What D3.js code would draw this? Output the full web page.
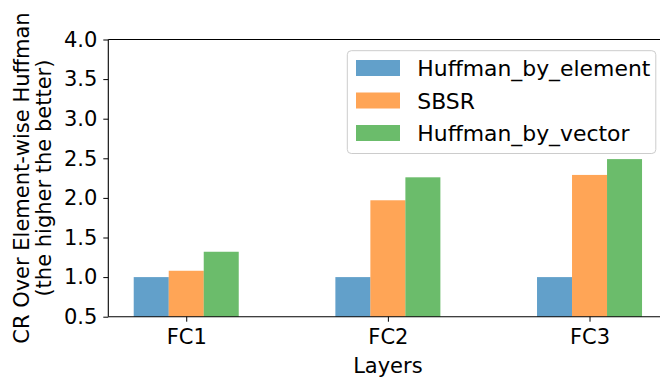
<!DOCTYPE html>
<html>
<head>
<meta charset="utf-8">
<script src="https://cdn.jsdelivr.net/npm/d3@7"></script>
<style>
  html, body { margin: 0; padding: 0; background: #fff; overflow: hidden; }
  svg { display: block; }
  text { font-family: "DejaVu Sans", sans-serif; fill: #000; }
</style>
</head>
<body>
<svg id="chart" width="660" height="377"></svg>
<script>
const categories = ["FC1", "FC2", "FC3"];
const seriesNames = ["Huffman_by_element", "SBSR", "Huffman_by_vector"];
const huffmanByElement = [1.0, 1.0, 1.0];
const sbsr = [1.08, 1.97, 2.29];
const huffmanByVector = [1.32, 2.26, 2.49];
const yTicks = [0.5, 1.0, 1.5, 2.0, 2.5, 3.0, 3.5, 4.0];
const seriesColors = ["#1f77b4", "#ff7f0e", "#2ca02c"];
const seriesValues = [huffmanByElement, sbsr, huffmanByVector];

(function () {
const svg = d3.select("#chart");
const W = 0.1736;               // bar width in category units
const pxPerUnit = 201.65;
const lo = -1.5 * W, hi = (categories.length - 1) + 1.5 * W;
const m = 0.05 * (hi - lo);
const pL = 108.3, pT = 39.5, pB = 316.7;
const pR = pL + (hi - lo + 2 * m) * pxPerUnit;

const x = d3.scaleLinear().domain([lo - m, hi + m]).range([pL, pR]);
const y = d3.scaleLinear().domain([0.5, 4.0]).range([pB, pT]);

// bars
seriesValues.forEach((vals, j) => {
  svg.append("g").selectAll("rect")
    .data(vals)
    .join("rect")
    .attr("x", (d, i) => x(i + (j - 1) * W - W / 2))
    .attr("width", x(W) - x(0))
    .attr("y", d => y(d))
    .attr("height", d => y(0.5) - y(d))
    .attr("fill", seriesColors[j])
    .attr("fill-opacity", 0.7);
});

// y axis
const yAxis = d3.axisLeft(y).tickValues(yTicks).tickFormat(d3.format(".1f"))
  .tickSize(5).tickPadding(6);
const gy = svg.append("g").attr("transform", `translate(${pL},0)`).call(yAxis);
gy.select(".domain").remove();
gy.selectAll(".tick line").attr("stroke", "#000").attr("stroke-width", 1);
gy.selectAll(".tick text").style("font-size", "21px").style("font-family", "DejaVu Sans").attr("fill", "#000");

// x axis
const xAxis = d3.axisBottom(x).tickValues(d3.range(categories.length))
  .tickFormat(i => categories[i]).tickSize(5).tickPadding(7);
const gx = svg.append("g").attr("transform", `translate(0,${pB})`).call(xAxis);
gx.select(".domain").remove();
gx.selectAll(".tick line").attr("stroke", "#000").attr("stroke-width", 1);
gx.selectAll(".tick text").style("font-size", "21px").style("font-family", "DejaVu Sans").attr("fill", "#000");

// spines (right spine lies outside the visible area)
const sp = svg.append("g").attr("stroke", "#000").attr("stroke-width", 1.1).attr("fill", "none");
sp.append("line").attr("x1", pL).attr("x2", pL).attr("y1", pT).attr("y2", pB);
sp.append("line").attr("x1", pL).attr("x2", pR).attr("y1", pT).attr("y2", pT);
sp.append("line").attr("x1", pL).attr("x2", pR).attr("y1", pB).attr("y2", pB);

// axis labels
svg.append("text").attr("x", (pL + pR) / 2).attr("y", 373)
  .attr("text-anchor", "middle").style("font-size", "21px").text("Layers");
const cy = (pT + pB) / 2;
svg.append("text").attr("transform", `translate(28.5,${cy}) rotate(-90)`)
  .attr("text-anchor", "middle").style("font-size", "21px").text("CR Over Element-wise Huffman");
svg.append("text").attr("transform", `translate(50.5,${cy}) rotate(-90)`)
  .attr("text-anchor", "middle").style("font-size", "21px").text("(the higher the better)");

// legend
const lg = svg.append("g");
lg.append("rect").attr("x", 347.3).attr("y", 50.7).attr("width", 308.5).attr("height", 102.8)
  .attr("rx", 4).attr("ry", 4).attr("fill", "#fff").attr("fill-opacity", 0.8)
  .attr("stroke", "#cccccc").attr("stroke-width", 1);
seriesNames.forEach((name, j) => {
  const yy = 60 + j * 32.5;
  lg.append("rect").attr("x", 356).attr("y", yy).attr("width", 44).attr("height", 16)
    .attr("fill", seriesColors[j]).attr("fill-opacity", 0.7);
  lg.append("text").attr("x", 417.3).attr("y", yy + 16).style("font-size", "21.9px").text(name);
});
})();
</script>
</body>
</html>
